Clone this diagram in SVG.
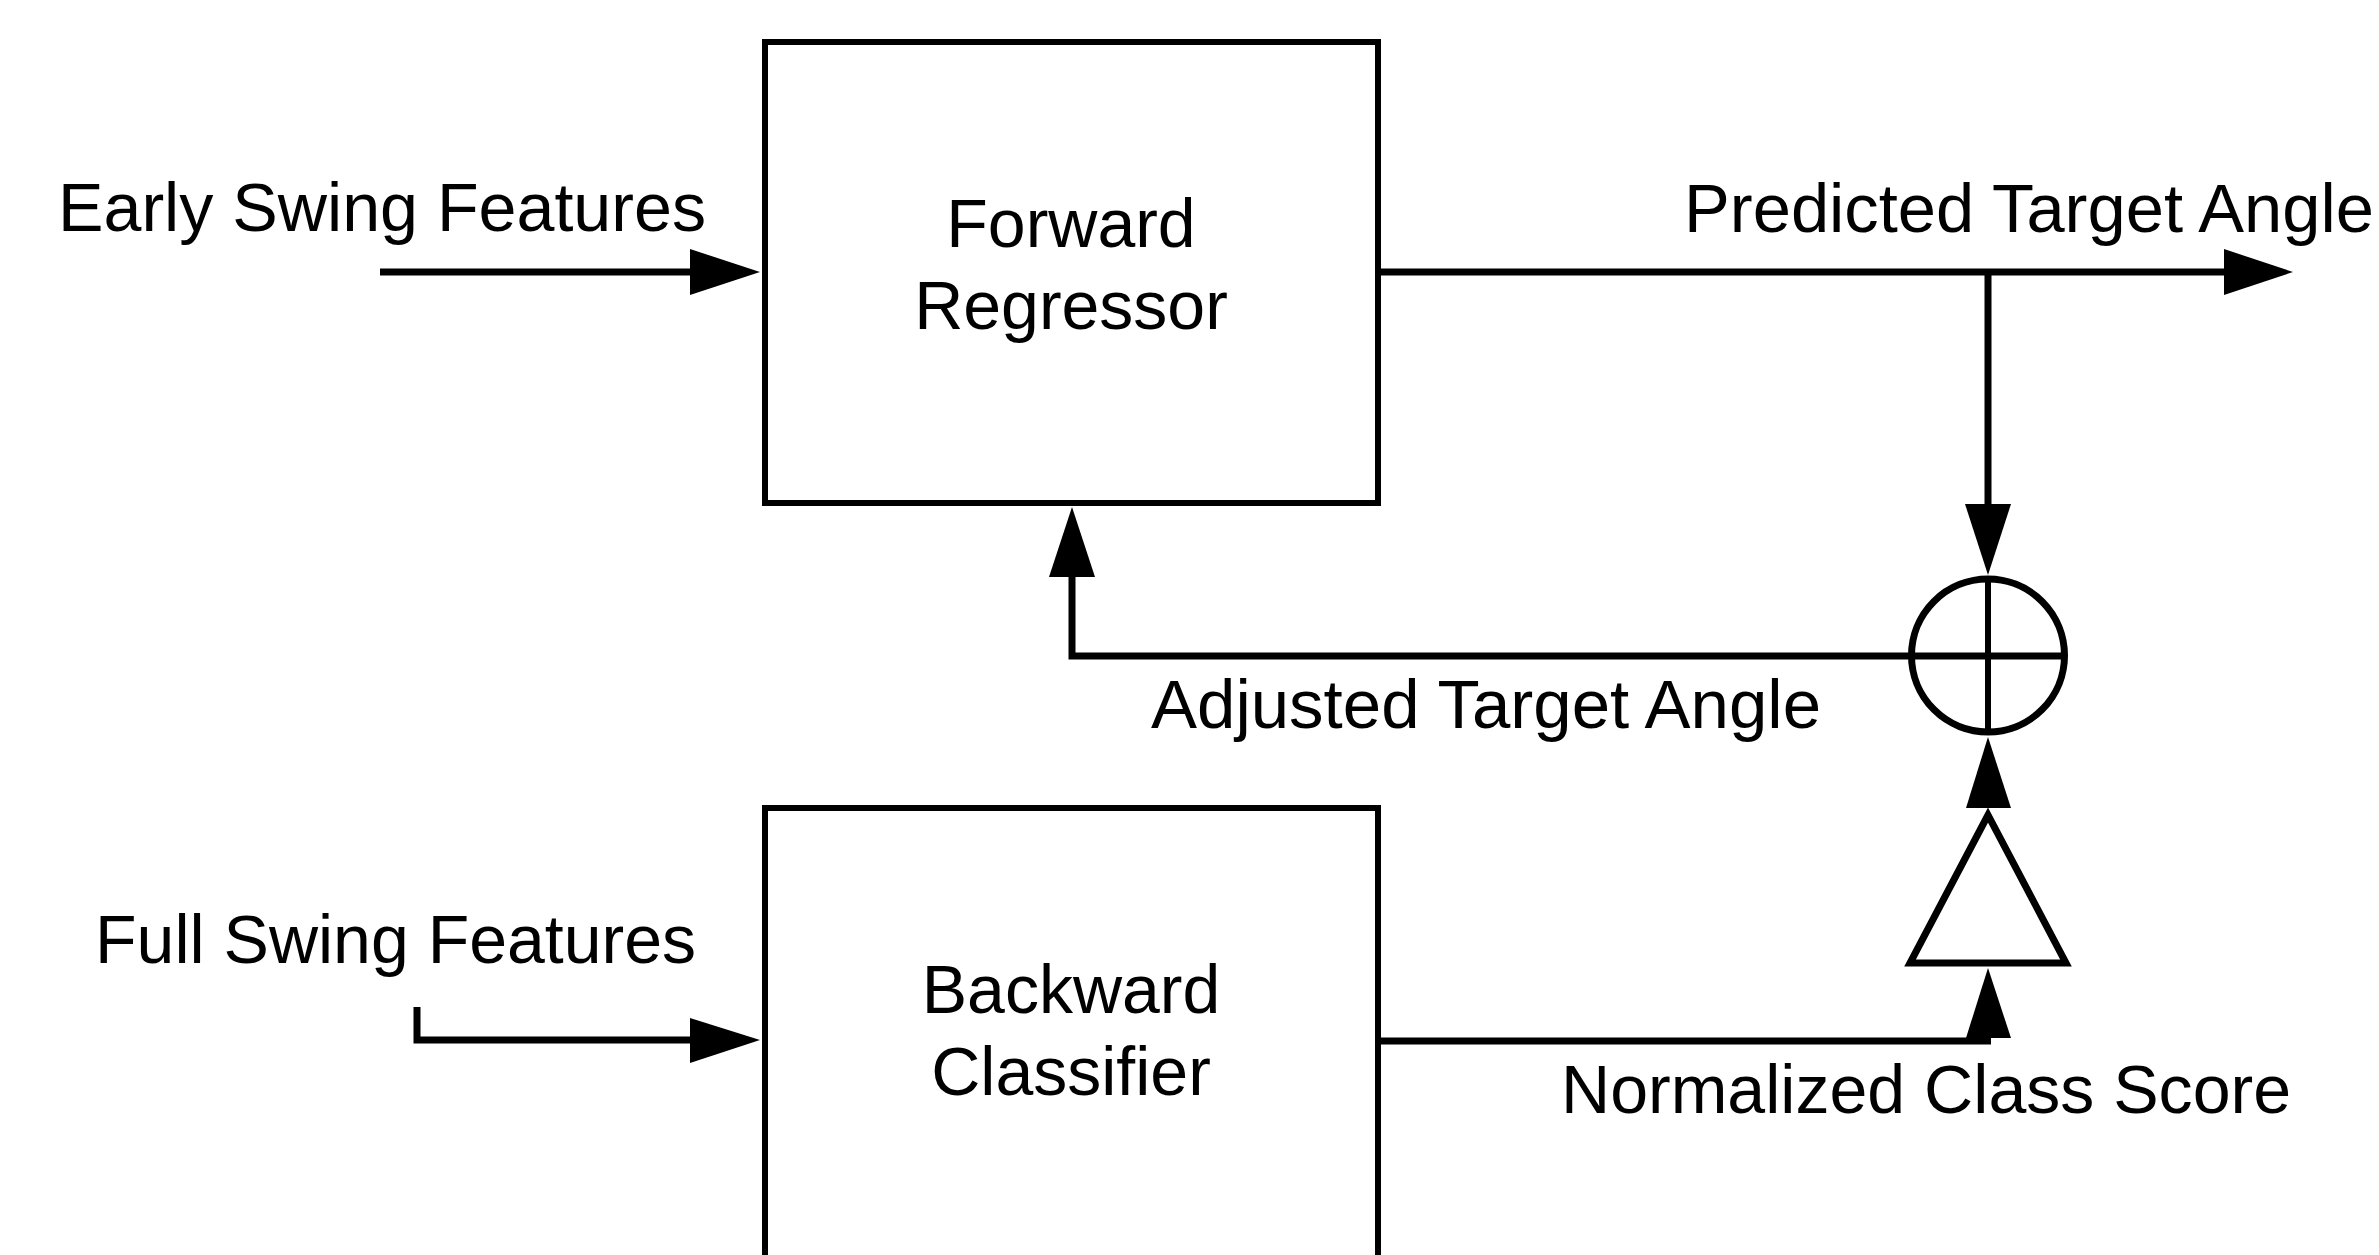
<svg xmlns="http://www.w3.org/2000/svg" width="2379" height="1255" viewBox="0 0 2379 1255">
<style>
text{font-family:"Liberation Sans",Arial,sans-serif;font-size:68px;fill:#000}
.box{fill:#fff;stroke:#000;stroke-width:6}
.ln{fill:none;stroke:#000;stroke-width:7;stroke-linejoin:miter}
.ah{fill:#000;stroke:none}
.c{text-anchor:middle}
</style>
<rect width="2379" height="1255" fill="#fff"/>
<g id="forward-regressor">
<rect class="box" x="765" y="42" width="613" height="461"/>
<text class="c" x="1071" y="247">Forward</text>
<text class="c" x="1071" y="329">Regressor</text>
</g>
<g id="backward-classifier">
<rect class="box" x="765" y="808" width="613" height="470"/>
<text class="c" x="1071" y="1013">Backward</text>
<text class="c" x="1071" y="1095">Classifier</text>
</g>
<g id="sum-junction">
<circle cx="1988" cy="655.5" r="76.5" fill="#fff" stroke="#000" stroke-width="7"/>
<line x1="1988" y1="579" x2="1988" y2="732" stroke="#000" stroke-width="6"/>
<line x1="1911" y1="656" x2="2065" y2="656" stroke="#000" stroke-width="7"/>
</g>
<g id="gain">
<polygon points="1988,815 1910,963 2066,963" fill="#fff" stroke="#000" stroke-width="7"/>
</g>
<g id="labels">
<text x="58" y="231" textLength="648" lengthAdjust="spacingAndGlyphs">Early Swing Features</text>
<text x="1684" y="232" textLength="690" lengthAdjust="spacingAndGlyphs">Predicted Target Angle</text>
<text x="1151" y="728" textLength="670" lengthAdjust="spacingAndGlyphs">Adjusted Target Angle</text>
<text x="696" y="963" text-anchor="end">Full Swing Features</text>
<text x="1561" y="1113" textLength="730" lengthAdjust="spacingAndGlyphs">Normalized Class Score</text>
</g>
<g id="connectors">
<line class="ln" x1="380" y1="272" x2="692" y2="272"/>
<polygon class="ah" points="690,249 760,272 690,295"/>
<line class="ln" x1="1378" y1="272" x2="2226" y2="272"/>
<polygon class="ah" points="2224,249 2293,272 2224,295"/>
<line class="ln" x1="1988" y1="272" x2="1988" y2="506"/>
<polygon class="ah" points="1965,504 2011,504 1988,575"/>
<polyline class="ln" points="1909,656 1072,656 1072,575"/>
<polygon class="ah" points="1049,577 1095,577 1072,507"/>
<polyline class="ln" points="417,1007 417,1040 692,1040"/>
<polygon class="ah" points="690,1018 760,1040 690,1063"/>
<polyline class="ln" points="1378,1041 1991,1041"/>
<polygon class="ah" points="1966,1038 2011,1038 1988,968"/>
<polygon class="ah" points="1966,808 2011,808 1988,737"/>
</g>
</svg>
